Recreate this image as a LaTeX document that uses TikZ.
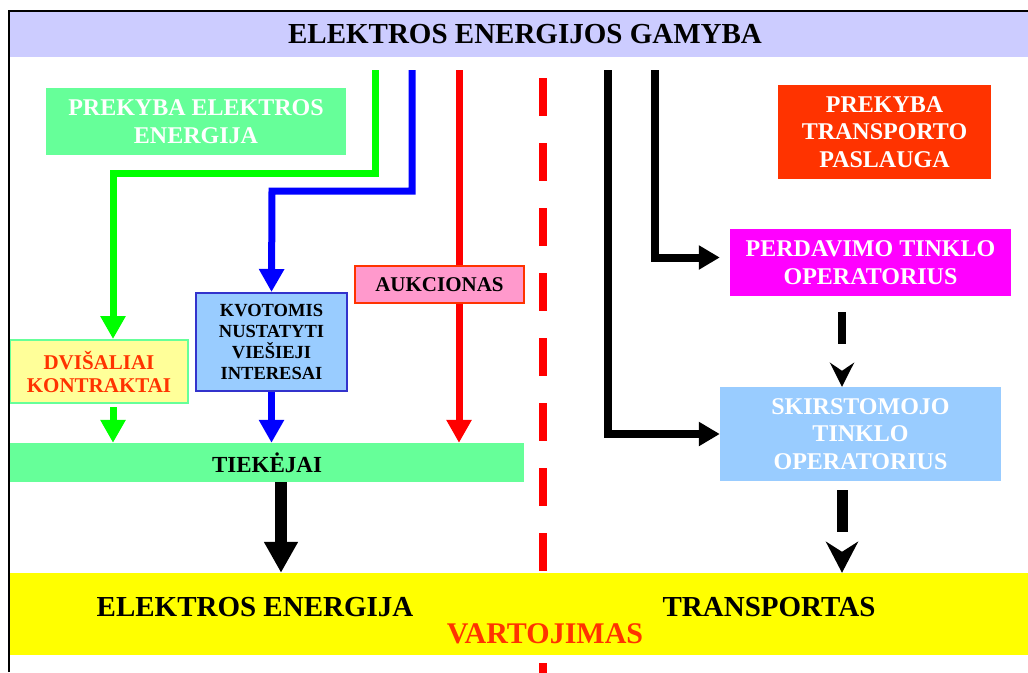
\documentclass[tikz,border=0pt]{standalone}
\usepackage{fontspec}
\setmainfont{Liberation Serif}
\usetikzlibrary{arrows.meta}
\definecolor{titlebg}{HTML}{CCCCFF}
\definecolor{lgreen}{HTML}{66FF99}
\definecolor{lyellow}{HTML}{FFFF99}
\definecolor{lblue}{HTML}{99CCFF}
\definecolor{kvoborder}{HTML}{3333CC}
\definecolor{lpink}{HTML}{FF99CC}
\definecolor{ored}{HTML}{FF3300}
\definecolor{mag}{HTML}{FF00FF}
\definecolor{agreen}{HTML}{00FF00}
\definecolor{ablue}{HTML}{0000FF}
\definecolor{ared}{HTML}{FF0000}
\definecolor{byellow}{HTML}{FFFF00}
\newcommand{\fsz}[2]{\fontsize{#1pt}{#2pt}\selectfont\bfseries}
\tikzset{
  box/.style={rectangle, inner sep=0pt, align=center, draw=none},
  colarrow/.style={line width=7pt, -{Triangle[length=23pt,width=24pt]}},
  colline/.style={line width=7pt},
  blkarrow/.style={line width=8pt, -{Triangle[length=21pt,width=23pt]}},
  bigarrow/.style={line width=12pt, -{Triangle[length=31pt,width=32pt]}},
}
\begin{document}
\begin{tikzpicture}[x=1pt,y=-1pt]
\useasboundingbox (0,0) rectangle (1028,672);
% divider
\coordinate (dtop) at (543,78);
\coordinate (dbot) at (543,690);
\draw[ared, line width=8pt, dash pattern=on 38pt off 27pt] (dtop) -- (dbot);
% title band
\node[box, fill=titlebg, minimum width=1018pt, minimum height=45pt, font=\fsz{29}{32}] (title) at (519,34.5) {\hspace*{12pt}ELEKTROS ENERGIJOS GAMYBA};
% boxes
\node[box, fill=lgreen, text=white, minimum width=300pt, minimum height=67pt, font=\fsz{24}{28}] (prek) at (196,121.5) {PREKYBA ELEKTROS\\ENERGIJA};
\node[box, fill=lyellow, draw=lgreen, line width=2pt, text=ored, minimum width=178pt, minimum height=63pt, font=\fsz{21}{23}] (dvi) at (99,371.5) {DVIŠALIAI\\KONTRAKTAI};
\node[box, fill=lblue, draw=kvoborder, line width=2pt, minimum width=151pt, minimum height=98pt, font=\fsz{18.5}{21}] (kvo) at (271.5,342) {KVOTOMIS\\NUSTATYTI\\VIEŠIEJI\\INTERESAI};
\node[box, fill=lpink, draw=ored, line width=1.5pt, minimum width=169pt, minimum height=37pt, font=\fsz{21}{24}] (auk) at (439.5,284.5) {AUKCIONAS};
\node[box, fill=lgreen, minimum width=514pt, minimum height=39pt, font=\fsz{23}{26}] (tiek) at (267,462.5) {TIEKĖJAI};
\node[box, fill=ored, text=white, minimum width=213pt, minimum height=94pt, font=\fsz{24}{27.5}] (ptp) at (884.5,132) {PREKYBA\\TRANSPORTO\\PASLAUGA};
\node[box, fill=mag, text=white, minimum width=281pt, minimum height=67pt, font=\fsz{24}{28}] (perd) at (870.5,262.5) {PERDAVIMO TINKLO\\OPERATORIUS};
\node[box, fill=lblue, text=white, minimum width=281pt, minimum height=94pt, font=\fsz{24}{27.5}] (skir) at (860.5,434) {SKIRSTOMOJO\\TINKLO\\OPERATORIUS};
\node[box, fill=byellow, minimum width=1018pt, minimum height=82pt] (vart) at (519,614) {};
\node[box, font=\fsz{29}{32}] (ee) at (255,607) {ELEKTROS ENERGIJA};
\node[box, font=\fsz{29}{32}] (tr) at (769,607) {TRANSPORTAS};
\node[box, text=ored, font=\fsz{30}{33}] (vj) at (545,634) {VARTOJIMAS};
% frame
\coordinate (fbl) at (9,672);
\coordinate (ftl) at (9,11);
\coordinate (ftr) at (1028,11);
\draw[line width=2pt] (fbl) -- (ftl) -- (ftr);
% green
\coordinate (g0) at (375,70);
\coordinate (g1) at (113,173);
\coordinate (gx) at (113,0);
\draw[colarrow, agreen] (g0) |- (g1) -- (g1 |- dvi.north);
\draw[colarrow, agreen, shorten <=3pt] (dvi.south -| gx) -- (tiek.north -| gx);
% blue
\coordinate (b0) at (412,70);
\coordinate (b1) at (272,191);
\draw[colarrow, ablue] (b0) |- (b1) -- (kvo.north);
\draw[colarrow, ablue] (kvo.south) -- (kvo.south |- tiek.north);
% red
\coordinate (r0) at (459,70);
\draw[colline, ared] (r0) -- (r0 |- auk.north);
\draw[colarrow, ared] (r0 |- auk.south) -- (r0 |- tiek.north);
% black bent
\coordinate (k1) at (608,70);
\coordinate (k2) at (655,70);
\draw[blkarrow] (k1) |- (skir.west);
\draw[blkarrow, shorten >=10pt] (k2) |- ([yshift=5pt]perd.west);
% big arrow
\coordinate (bx) at (281,0);
\draw[bigarrow] (tiek.south -| bx) -- (vart.north -| bx);
% dashed arrows
\coordinate (dx) at (842,0);
\draw[line width=8pt, shorten <=16pt, dash pattern=on 32pt off 80pt, -{Stealth[length=24pt,width=24pt,inset=8pt]}] (perd.south -| dx) -- (skir.north -| dx);
\draw[line width=11pt, shorten <=9pt, dash pattern=on 42pt off 80pt, -{Stealth[length=31pt,width=32pt,inset=10pt]}] (skir.south -| dx) -- (vart.north -| dx);
\end{tikzpicture}
\end{document}
